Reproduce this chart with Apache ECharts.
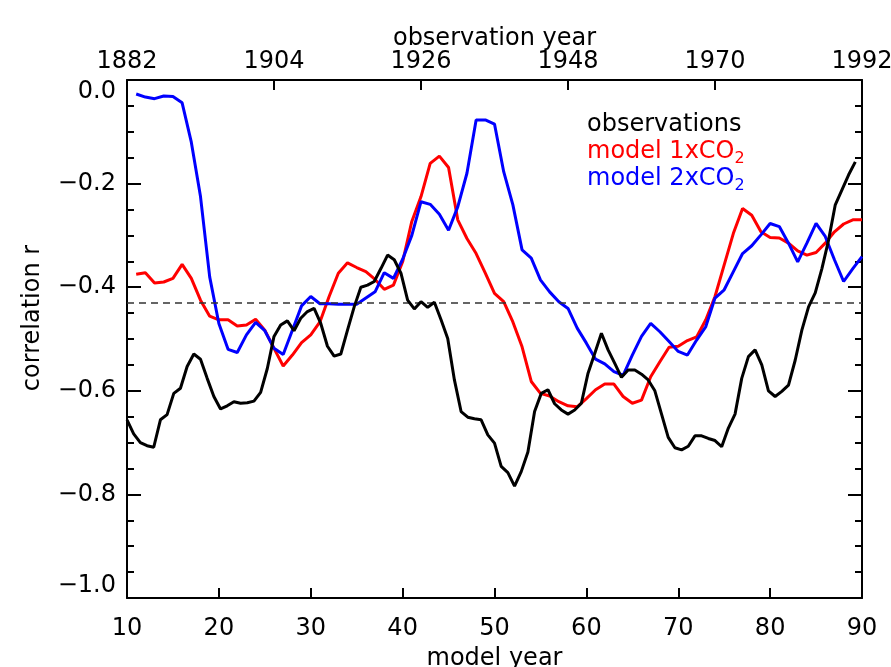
<!DOCTYPE html>
<html>
<head>
<meta charset="utf-8">
<script src="https://cdn.jsdelivr.net/npm/echarts@6/dist/echarts.min.js"></script>
<style>
html,body{margin:0;padding:0;background:#fff;}
#chart{width:891px;height:667px;}
</style>
</head>
<body>
<div id="chart"></div>
<script>
// ---- data ----
const seriesNames = ['observations', 'model 1xCO2', 'model 2xCO2'];
const legendLabels = ['observations', 'model 1xCO{s|2}', 'model 2xCO{s|2}'];
const seriesColors = ['#000000', '#ff0000', '#0000ff'];

const modelYearStart = 11;
const obsYearStart = 1882;

const obsTickYears = [1882, 1904, 1926, 1948, 1970, 1992];
const modelTickYears = [10, 20, 30, 40, 50, 60, 70, 80, 90];
const rTicks = [-1.0, -0.8, -0.6, -0.4, -0.2, 0.0];
const thresholdR = -0.43;

// observations, one value per observation year (1882 ...)
const obsR = [
  -0.656, -0.683, -0.700, -0.706, -0.709, -0.656, -0.646, -0.605, -0.595, -0.553,
  -0.529, -0.539, -0.576, -0.611, -0.635, -0.629, -0.621, -0.624, -0.623, -0.620,
  -0.603, -0.557, -0.495, -0.473, -0.465, -0.484, -0.460, -0.447, -0.441, -0.470,
  -0.514, -0.533, -0.529, -0.483, -0.438, -0.400, -0.396, -0.389, -0.364, -0.338,
  -0.347, -0.373, -0.425, -0.442, -0.428, -0.439, -0.429, -0.463, -0.499, -0.579,
  -0.640, -0.651, -0.654, -0.656, -0.685, -0.701, -0.746, -0.758, -0.784, -0.756,
  -0.718, -0.640, -0.605, -0.598, -0.625, -0.637, -0.645, -0.637, -0.624, -0.566,
  -0.528, -0.489, -0.521, -0.547, -0.574, -0.560, -0.560, -0.568, -0.579, -0.600,
  -0.645, -0.690, -0.710, -0.714, -0.707, -0.687, -0.687, -0.692, -0.696, -0.708,
  -0.672, -0.645, -0.576, -0.534, -0.521, -0.550, -0.600, -0.611, -0.601, -0.589,
  -0.541, -0.483, -0.438, -0.411, -0.364, -0.309, -0.241, -0.212, -0.183, -0.158
];

// model 1xCO2, one value per model year (11 ... 90)
const model1R = [
  -0.375, -0.372, -0.392, -0.390, -0.383, -0.356, -0.383, -0.425, -0.456, -0.463,
  -0.463, -0.475, -0.473, -0.462, -0.483, -0.518, -0.552, -0.531, -0.507, -0.492,
  -0.467, -0.418, -0.373, -0.353, -0.362, -0.370, -0.385, -0.404, -0.396, -0.351,
  -0.273, -0.225, -0.161, -0.147, -0.169, -0.270, -0.306, -0.335, -0.373, -0.412,
  -0.428, -0.467, -0.515, -0.582, -0.605, -0.610, -0.621, -0.629, -0.631, -0.615,
  -0.598, -0.587, -0.587, -0.611, -0.624, -0.618, -0.573, -0.544, -0.516, -0.514,
  -0.503, -0.496, -0.463, -0.418, -0.357, -0.296, -0.248, -0.261, -0.293, -0.304,
  -0.305, -0.315, -0.330, -0.338, -0.333, -0.315, -0.293, -0.278, -0.270, -0.270
];

// model 2xCO2, one value per model year (11 ... 90)
const model2R = [
  -0.027, -0.033, -0.036, -0.031, -0.032, -0.044, -0.120, -0.225, -0.380, -0.470,
  -0.520, -0.526, -0.492, -0.468, -0.484, -0.518, -0.530, -0.483, -0.436, -0.418,
  -0.432, -0.432, -0.433, -0.433, -0.433, -0.421, -0.409, -0.372, -0.383, -0.346,
  -0.300, -0.235, -0.240, -0.259, -0.290, -0.245, -0.180, -0.077, -0.077, -0.085,
  -0.177, -0.241, -0.328, -0.344, -0.386, -0.409, -0.428, -0.441, -0.479, -0.508,
  -0.539, -0.548, -0.563, -0.570, -0.531, -0.495, -0.470, -0.486, -0.505, -0.524,
  -0.531, -0.502, -0.476, -0.421, -0.405, -0.370, -0.335, -0.320, -0.299, -0.277,
  -0.283, -0.315, -0.351, -0.315, -0.277, -0.302, -0.347, -0.389, -0.364, -0.341
];

const obsYears = obsR.map((_, i) => obsYearStart + i);
const modelYears = model1R.map((_, i) => modelYearStart + i);

// ---- chart ----
const FONT = 'DejaVu Sans';
const chart = echarts.init(document.getElementById('chart'), null, {renderer: 'canvas'});

const axisLineStyle = {color: '#000', width: 2};
const fmtR = v => (v < 0 ? '\u2212' : '') + Math.abs(v).toFixed(1);

const option = {
  animation: false,
  backgroundColor: '#fff',
  grid: {left: 127, right: 29, top: 80, bottom: 69, containLabel: false, outerBoundsMode: 'none'},
  xAxis: [
    {
      type: 'value', position: 'bottom',
      min: modelTickYears[0], max: modelTickYears[modelTickYears.length - 1],
      interval: modelTickYears[1] - modelTickYears[0],
      axisLine: {show: true, onZero: false, lineStyle: axisLineStyle},
      axisTick: {show: true, inside: true, length: 10, lineStyle: axisLineStyle},
      axisLabel: {margin: 19, color: '#000', fontFamily: FONT, fontSize: 24, hideOverlap: false},
      splitLine: {show: false},
      name: 'model year', nameLocation: 'middle', nameGap: 49, nameMoveOverlap: false,
      nameTextStyle: {color: '#000', fontFamily: FONT, fontSize: 24}
    },
    {
      type: 'value', position: 'top',
      min: obsTickYears[0], max: obsTickYears[obsTickYears.length - 1],
      axisLine: {show: true, onZero: false, lineStyle: axisLineStyle},
      axisTick: {show: true, inside: true, length: 10, lineStyle: axisLineStyle, customValues: obsTickYears},
      axisLabel: {margin: 6, color: '#000', fontFamily: FONT, fontSize: 24, customValues: obsTickYears,
        formatter: v => String(v), hideOverlap: false},
      splitLine: {show: false},
      name: 'observation year', nameLocation: 'middle', nameGap: 29, nameMoveOverlap: false,
      nameTextStyle: {color: '#000', fontFamily: FONT, fontSize: 24}
    }
  ],
  yAxis: [
    {
      type: 'value', position: 'left',
      min: rTicks[0], max: rTicks[rTicks.length - 1], interval: 0.2,
      axisLine: {show: true, onZero: false, lineStyle: axisLineStyle},
      axisTick: {show: true, inside: true, length: 14, lineStyle: axisLineStyle},
      minorTick: {show: true, splitNumber: 4, length: 7, lineStyle: axisLineStyle},
      axisLabel: {margin: 11, color: '#000', fontFamily: FONT, fontSize: 24, formatter: fmtR,
        verticalAlignMaxLabel: 'top', verticalAlignMinLabel: 'bottom'},
      splitLine: {show: false}, minorSplitLine: {show: false}
    },
    {
      type: 'value', position: 'right',
      min: rTicks[0], max: rTicks[rTicks.length - 1], interval: 0.2,
      axisLine: {show: true, onZero: false, lineStyle: axisLineStyle},
      axisTick: {show: true, inside: true, length: 14, lineStyle: axisLineStyle},
      minorTick: {show: true, splitNumber: 4, length: 7, lineStyle: axisLineStyle},
      axisLabel: {show: false},
      splitLine: {show: false}, minorSplitLine: {show: false}
    }
  ],
  series: [
    {
      name: seriesNames[1], type: 'line', xAxisIndex: 0, yAxisIndex: 0,
      data: modelYears.map((x, i) => [x, model1R[i]]),
      showSymbol: false, symbol: 'none',
      lineStyle: {color: seriesColors[1], width: 3}, itemStyle: {color: seriesColors[1]},
      z: 3
    },
    {
      name: seriesNames[2], type: 'line', xAxisIndex: 0, yAxisIndex: 0,
      data: modelYears.map((x, i) => [x, model2R[i]]),
      showSymbol: false, symbol: 'none',
      lineStyle: {color: seriesColors[2], width: 3}, itemStyle: {color: seriesColors[2]},
      z: 4
    },
    {
      name: seriesNames[0], type: 'line', xAxisIndex: 1, yAxisIndex: 0,
      data: obsYears.map((x, i) => [x, obsR[i]]),
      showSymbol: false, symbol: 'none',
      lineStyle: {color: seriesColors[0], width: 3}, itemStyle: {color: seriesColors[0]},
      z: 5,
      markLine: {
        silent: true, symbol: ['none', 'none'], label: {show: false},
        lineStyle: {color: '#333', width: 1.5, type: [7, 5]},
        data: [{yAxis: thresholdR}]
      }
    }
  ],
  graphic: [
    {
      type: 'text', x: 33, y: 318, rotation: Math.PI / 2,
      style: {text: 'correlation r', fill: '#000', font: '24px "DejaVu Sans"', align: 'center', verticalAlign: 'middle'}
    }
  ].concat(legendLabels.map((t, i) => ({
    type: 'text', x: 587, y: 125 + i * 27,
    style: {
      text: t, fill: seriesColors[i], align: 'left', verticalAlign: 'middle',
      fontFamily: FONT, fontSize: 24, lineHeight: 29,
      rich: {s: {fontFamily: FONT, fontSize: 16, lineHeight: 16, verticalAlign: 'bottom', fill: seriesColors[i]}}
    }
  })))
};
chart.setOption(option);
</script>
</body>
</html>
